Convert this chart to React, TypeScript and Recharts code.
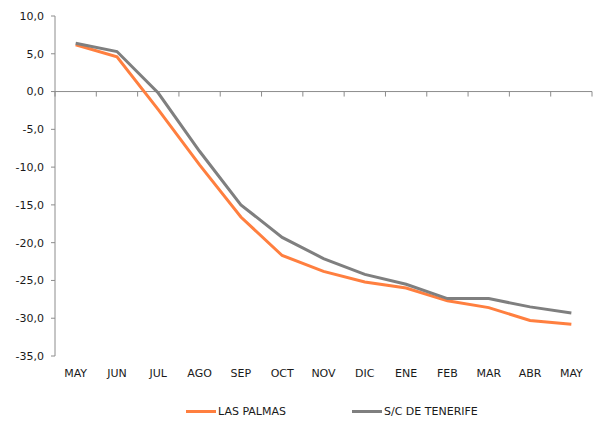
import React from "react";
import {
    LineChart,
    Line,
    XAxis,
    YAxis,
    ReferenceLine,
    Legend,
} from "recharts";

const months = ["MAY", "JUN", "JUL", "AGO", "SEP", "OCT", "NOV", "DIC", "ENE", "FEB", "MAR", "ABR", "MAY"];
const lasPalmas = [6.2, 4.6, -2.4, -9.7, -16.6, -21.7, -23.8, -25.2, -26.0, -27.7, -28.6, -30.3, -30.8];
const tenerife = [6.4, 5.3, -0.2, -7.9, -15.0, -19.3, -22.1, -24.2, -25.5, -27.4, -27.4, -28.5, -29.3];
const yTicks = [10, 5, 0, -5, -10, -15, -20, -25, -30, -35];

const data = months.map((m, i) => ({
    month: m,
    lp: lasPalmas[i],
    tf: tenerife[i],
}));

const W = 596;
const H = 427;
const TOP = 16;
const BOTTOM = 71;
const LEFT = 55;
const RIGHT = 4;
const Y_MAX = 10;
const Y_MIN = -35;
const PLOT_H = H - TOP - BOTTOM;
const BAND = (W - LEFT - RIGHT) / months.length;
const ZERO_Y = TOP + ((Y_MAX - 0) / (Y_MAX - Y_MIN)) * PLOT_H;
const AXIS = "#8c8c8c";
const FONT = "DejaVu Sans, Verdana, sans-serif";

const fmt = (v: number) => v.toFixed(1).replace(".", ",");

const MonthTick = (props: any) => {
    const { x, y, payload, index } = props;
    return (
        <g>
            <line x1={x + BAND / 2} x2={x + BAND / 2} y1={ZERO_Y} y2={ZERO_Y + 5} stroke={AXIS} />
            {index === 0 && (
                <line x1={x - BAND / 2} x2={x - BAND / 2} y1={ZERO_Y} y2={ZERO_Y + 5} stroke={AXIS} />
            )}
            <text x={x} y={y + 13} textAnchor="middle" fontSize={11} fontFamily={FONT} fill="#1a1a1a">
                {payload.value}
            </text>
        </g>
    );
};

const LegendBox = () => (
    <div style={{ position: "relative", height: 31, fontFamily: FONT, fontSize: 11, color: "#1a1a1a" }}>
        <div style={{ position: "absolute", left: 186, top: 14, width: 30, height: 3, background: "#ff7f3f" }} />
        <span style={{ position: "absolute", left: 218, top: 9 }}>LAS PALMAS</span>
        <div style={{ position: "absolute", left: 352, top: 14, width: 30, height: 3, background: "#7f7f7f" }} />
        <span style={{ position: "absolute", left: 384, top: 9 }}>S/C DE TENERIFE</span>
    </div>
);

export default function App() {
    return (
        <div style={{ position: "absolute", left: 0, top: 0, width: W, height: H, background: "#fff" }}>
            <LineChart width={W} height={H} data={data} margin={{ top: TOP, right: RIGHT, left: 0, bottom: 0 }}>
                <XAxis
                    dataKey="month"
                    height={40}
                    axisLine={false}
                    tickLine={false}
                    interval={0}
                    padding={{ left: BAND / 2, right: BAND / 2 }}
                    tick={<MonthTick />}
                />
                <YAxis
                    width={LEFT}
                    domain={[Y_MIN, Y_MAX]}
                    ticks={yTicks}
                    tickFormatter={fmt}
                    stroke={AXIS}
                    tickSize={4}
                    tickMargin={7}
                    tick={{ fontSize: 11, fontFamily: FONT, fill: "#1a1a1a" }}
                    allowDataOverflow
                />
                <ReferenceLine y={0} stroke={AXIS} />
                <Legend verticalAlign="bottom" height={31} content={<LegendBox />} />
                <Line
                    dataKey="lp"
                    name="LAS PALMAS"
                    stroke="#ff7f3f"
                    strokeWidth={3}
                    dot={false}
                    isAnimationActive={false}
                />
                <Line
                    dataKey="tf"
                    name="S/C DE TENERIFE"
                    stroke="#7f7f7f"
                    strokeWidth={3}
                    dot={false}
                    isAnimationActive={false}
                />
            </LineChart>
        </div>
    );
}
